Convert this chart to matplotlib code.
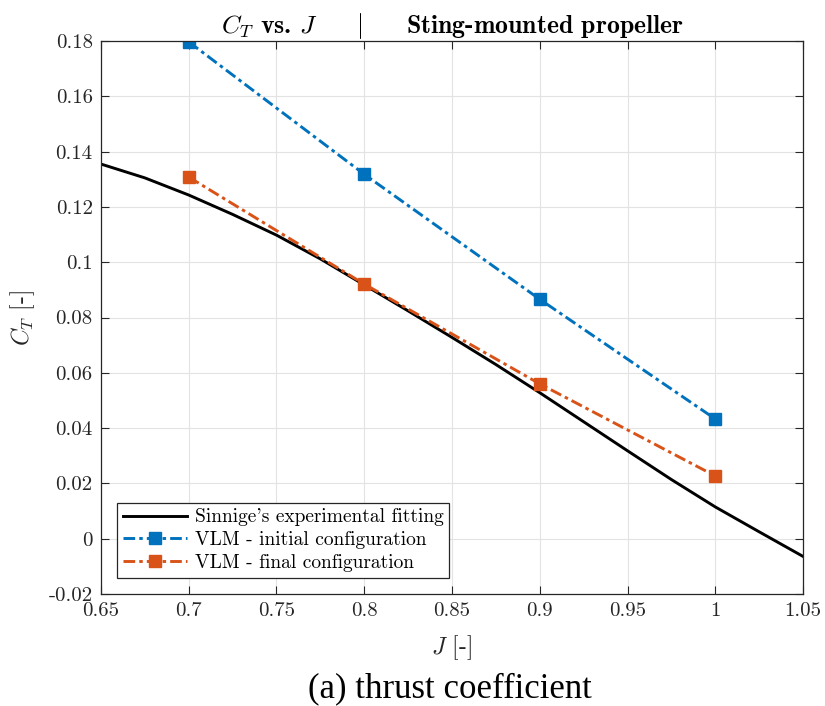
import numpy as np
import matplotlib.pyplot as plt
from matplotlib.ticker import FuncFormatter

plt.rcParams["mathtext.fontset"] = "cm"
plt.rcParams["axes.unicode_minus"] = False
plt.rcParams["font.family"] = "cmr10"

# Sinnige's experimental fitting
J_fit = [0.65, 0.675, 0.7, 0.725, 0.75, 0.775, 0.8, 0.825, 0.85, 0.875,
         0.9, 0.925, 0.95, 0.975, 1.0, 1.025, 1.05]
CT_fit = [0.1355, 0.1305, 0.1243, 0.1173, 0.1098, 0.1012, 0.0918, 0.0824,
          0.0728, 0.0630, 0.0528, 0.0423, 0.0318, 0.0214, 0.0115, 0.0025,
          -0.0064]

# VLM results
J_vlm = [0.7, 0.8, 0.9, 1.0]
CT_init = [0.1797, 0.1318, 0.0866, 0.0433]
CT_final = [0.1308, 0.0921, 0.0560, 0.0227]

blue = "#0072BD"
orange = "#D95319"
dashdot = (0, (4, 1.4, 1.2, 1.4))

fig = plt.figure(figsize=(8.25, 7.06), dpi=100)
ax = fig.add_axes([0.1224, 0.1586, 0.851, 0.7833])

ax.plot(J_fit, CT_fit, "k-", lw=2.1, label="Sinnige's experimental fitting")
ax.plot(J_vlm, CT_init, color=blue, ls=dashdot, lw=2.1, marker="s", ms=8.5,
        label="VLM - initial configuration")
ax.plot(J_vlm, CT_final, color=orange, ls=dashdot, lw=2.1, marker="s", ms=8.5,
        label="VLM - final configuration")

ax.set_xlim(0.65, 1.05)
ax.set_ylim(-0.02, 0.18)
ax.set_xticks(np.arange(0.65, 1.051, 0.05))
ax.set_yticks(np.arange(-0.02, 0.181, 0.02))
fmt = FuncFormatter(lambda v, p: "%g" % round(v, 4))
ax.xaxis.set_major_formatter(fmt)
ax.yaxis.set_major_formatter(fmt)
ax.tick_params(direction="in", top=True, right=True, labelsize=15,
               length=6, width=0.8, color="#262626", labelcolor="#262626",
               pad=6)
ax.grid(True, color="#e3e3e3", lw=0.8)
ax.set_axisbelow(True)
for s in ax.spines.values():
    s.set_color("#262626")
    s.set_linewidth(0.9)

ax.set_xlabel(r"$J$ [-]", fontsize=17, color="#262626", labelpad=9)
ax.set_ylabel(r"$C_T$ [-]", fontsize=17, color="#262626", labelpad=8)
ax.set_title(r"$C_T$ vs. $J$     $|$     Sting-mounted propeller",
             fontsize=18.5, fontfamily="cmb10", pad=6)

leg = ax.legend(loc="lower left", bbox_to_anchor=(0.0228, 0.029),
                borderaxespad=0, fontsize=14, fancybox=False,
                edgecolor="#262626", framealpha=1, handlelength=3.3,
                borderpad=0.3, labelspacing=0.25, handletextpad=0.4)
leg.get_frame().set_linewidth(0.9)

fig.text(0.545, 0.012, "(a) thrust coefficient", ha="center", va="baseline",
         fontsize=25, family="Liberation Serif")

fig.savefig("out.png", dpi=100)
